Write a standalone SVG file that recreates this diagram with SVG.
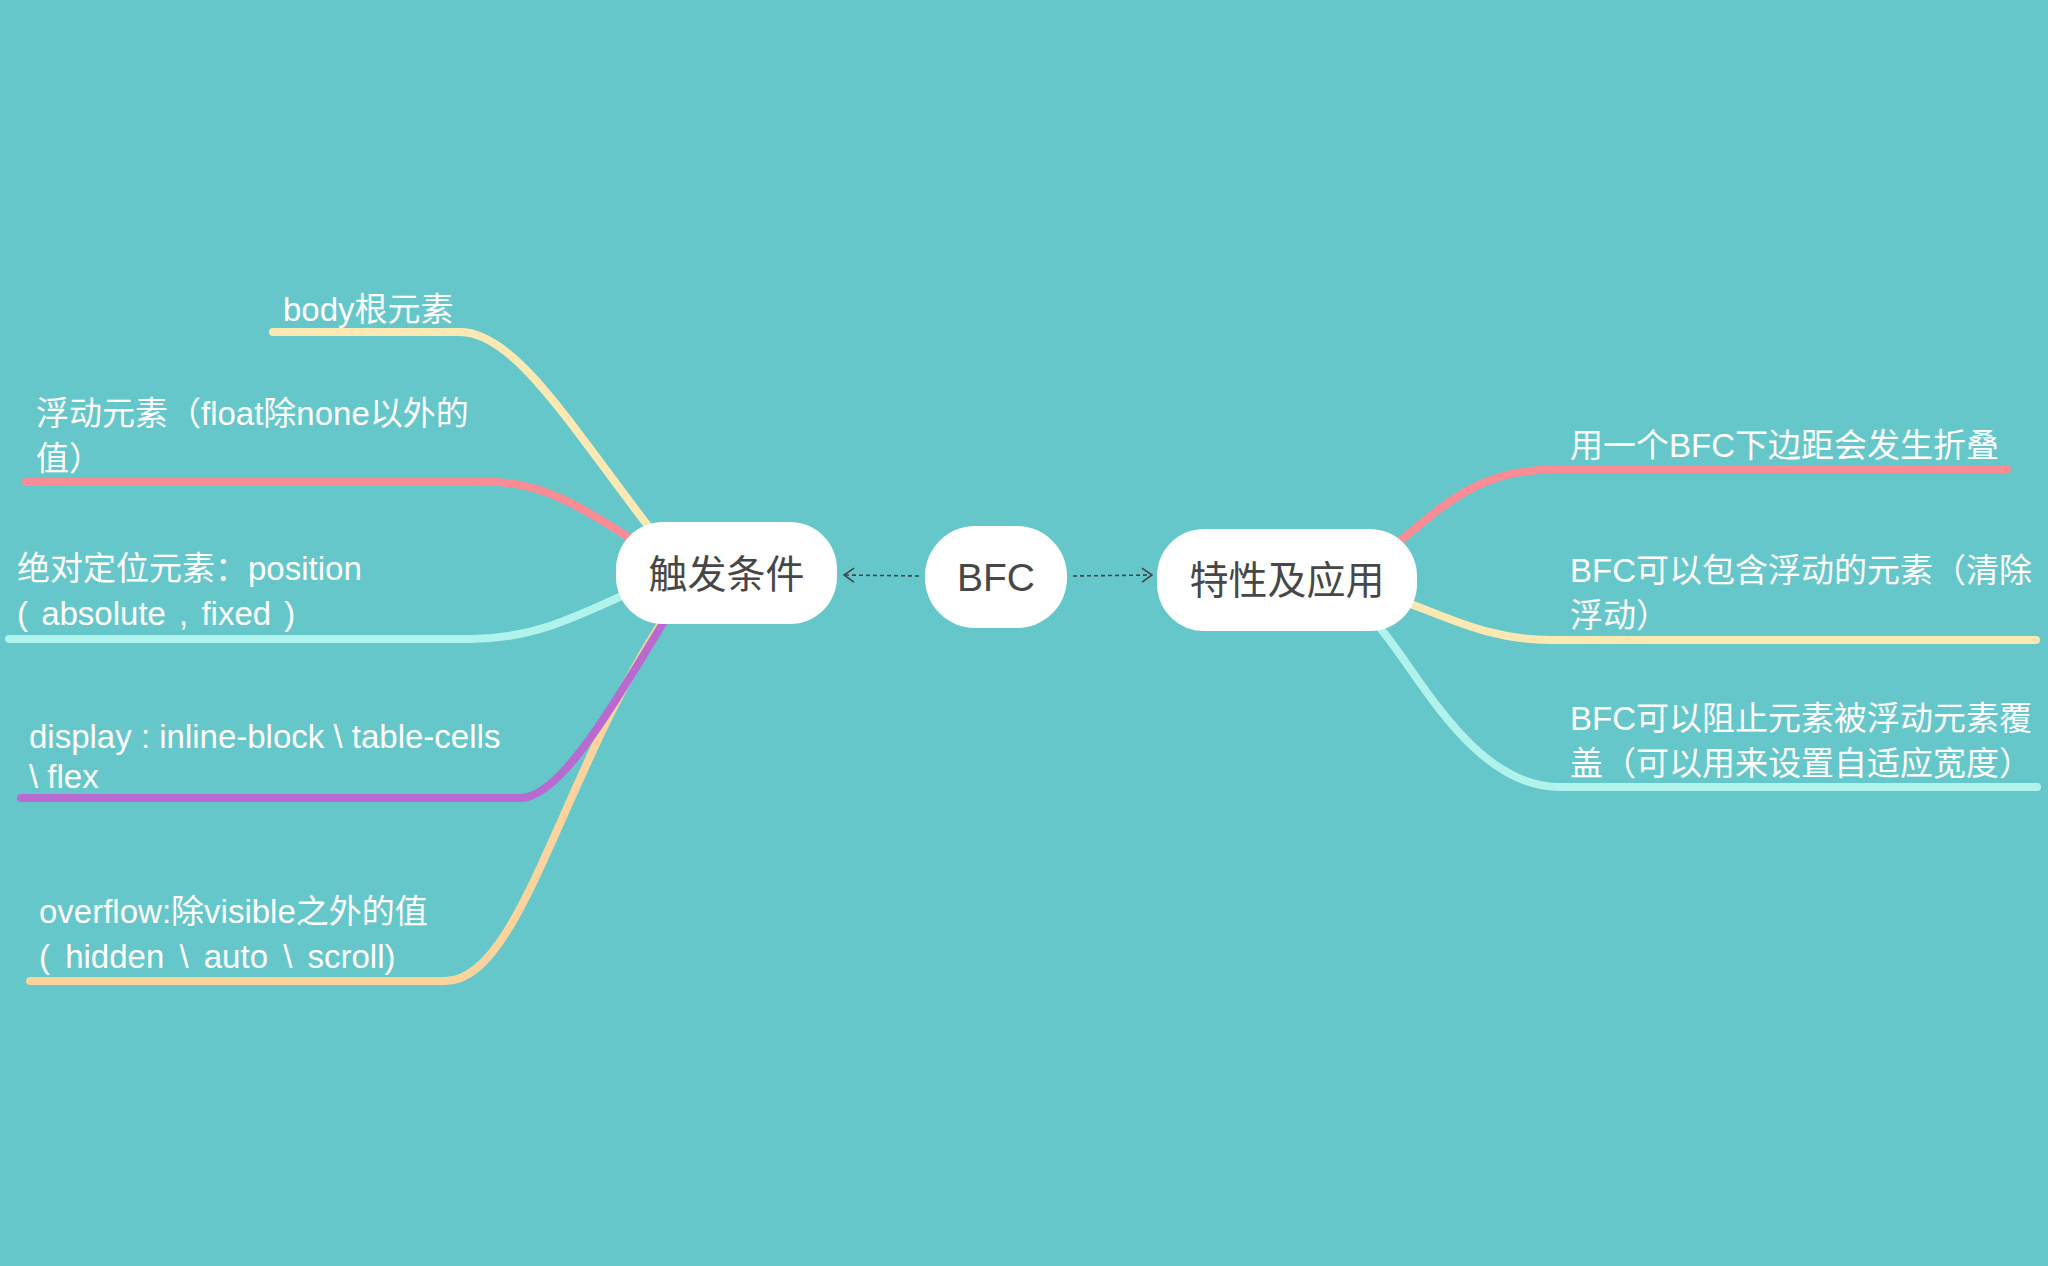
<svg xmlns="http://www.w3.org/2000/svg" width="2048" height="1266" viewBox="0 0 2048 1266">
<style>
.branch{fill:none;stroke-width:8;stroke-linecap:round}
.yellow{stroke:#FCE8B2}
.red{stroke:#F98C94}
.cyan{stroke:#B0F2EC}
.purple{stroke:#B96AD0}
.orange{stroke:#FAD49C}
.arrow{fill:none;stroke:#3E4749;stroke-width:1.6;stroke-dasharray:4 3}
.node{fill:#FFFFFF}
.main{font-family:"Liberation Sans","Noto Sans CJK SC",sans-serif;font-size:39px;fill:#474747;text-anchor:middle}
.sub{font-family:"Liberation Sans","Noto Sans CJK SC",sans-serif;font-size:33px;fill:#FFFFFF}
</style>
<defs>
<marker id="chev" viewBox="0 0 12 16" refX="11" refY="8" markerWidth="12" markerHeight="16" markerUnits="userSpaceOnUse" orient="auto">
<path d="M1,1 L11,8 L1,15" fill="none" stroke="#3E4749" stroke-width="1.6"/>
</marker>
</defs>
<rect x="0" y="0" width="2048" height="1266" fill="#66C7CB"/>
<g id="connectors">
<path class="branch yellow" d="M273,332 H460 C515,332 570,425 655,535"/>
<path class="branch red" d="M26,482 H490 C540,482 580,505 640,545"/>
<path class="branch cyan" d="M9,639 H470 C530,639 570,620 635,590"/>
<path class="branch orange" d="M30,981 H445 C520,981 560,780 662,622"/>
<path class="branch purple" d="M21,798 H520 C560,798 610,710 665,620"/>
<path class="branch red" d="M1395,545 C1450,500 1480,469 1560,469 H2007"/>
<path class="branch yellow" d="M1405,602 C1450,618 1490,640 1550,640 H2036"/>
<path class="branch cyan" d="M1375,622 C1415,665 1470,787 1560,787 H2037"/>
<path class="arrow" d="M919,576 L844,575" marker-end="url(#chev)"/>
<path class="arrow" d="M1073,576 L1152,575" marker-end="url(#chev)"/>
</g>
<g id="node-trigger">
<rect class="node" x="616" y="522" width="221" height="102" rx="47"/>
<text class="main" x="726.5" y="588">触发条件</text>
</g>
<g id="node-bfc">
<rect class="node" x="925" y="526" width="142" height="102" rx="50"/>
<text class="main" x="996" y="591">BFC</text>
</g>
<g id="node-feature">
<rect class="node" x="1157" y="529" width="260" height="102" rx="47"/>
<text class="main" x="1287" y="594">特性及应用</text>
</g>
<g id="sub-body">
<text class="sub" x="283" y="321">body根元素</text>
</g>
<g id="sub-float">
<text class="sub" x="36" y="425">浮动元素（float除none以外的</text>
<text class="sub" x="36" y="470">值）</text>
</g>
<g id="sub-position">
<text class="sub" x="17" y="580">绝对定位元素：position</text>
<text class="sub" x="17" y="625" word-spacing="4">( absolute , fixed )</text>
</g>
<g id="sub-display">
<text class="sub" x="29" y="748">display : inline-block \ table-cells</text>
<text class="sub" x="29" y="788">\ flex</text>
</g>
<g id="sub-overflow">
<text class="sub" x="39" y="923">overflow:除visible之外的值</text>
<text class="sub" x="39" y="968" word-spacing="6">( hidden \ auto \ scroll)</text>
</g>
<g id="sub-margin">
<text class="sub" x="1570" y="457">用一个BFC下边距会发生折叠</text>
</g>
<g id="sub-contain">
<text class="sub" x="1570" y="582">BFC可以包含浮动的元素（清除</text>
<text class="sub" x="1570" y="627">浮动）</text>
</g>
<g id="sub-cover">
<text class="sub" x="1570" y="730">BFC可以阻止元素被浮动元素覆</text>
<text class="sub" x="1570" y="775">盖（可以用来设置自适应宽度）</text>
</g>
</svg>
